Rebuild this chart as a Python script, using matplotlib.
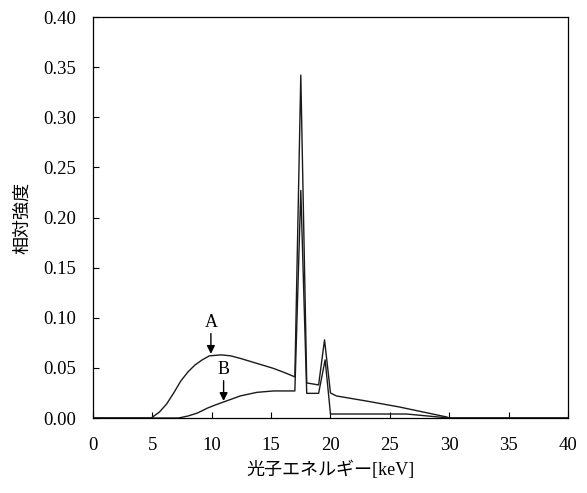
import matplotlib.pyplot as plt

# spectrum A (keV, relative intensity)
energy_a = [0, 4.9, 5.6, 6.2, 6.8, 7.4, 8.0, 8.6, 9.2, 9.8, 10.8, 11.6, 12.4, 13.8, 15.2, 16.2, 17.0,
            17.5, 18.0, 19.0, 19.5, 20.0, 20.5, 23.0, 25.8, 29.8, 30.0, 40.0]
intensity_a = [0, 0, 0.006, 0.014, 0.025, 0.037, 0.046, 0.053, 0.058, 0.062, 0.063, 0.062,
               0.0595, 0.0545, 0.0495, 0.045, 0.041, 0.342, 0.035, 0.033, 0.078, 0.025, 0.022,
               0.017, 0.011, 0.001, 0, 0]

# spectrum B
energy_b = [0, 7.2, 8.0, 8.8, 9.6, 10.3, 11.0, 12.4, 13.8, 15.2, 17.0, 17.5, 18.0, 19.0, 19.55,
            20.0, 26.4, 30.0, 40.0]
intensity_b = [0, 0, 0.002, 0.005, 0.0097, 0.013, 0.016, 0.022, 0.0256, 0.027, 0.027, 0.227,
               0.0246, 0.0246, 0.058, 0.004, 0.004, 0, 0]

xticks = [0, 5, 10, 15, 20, 25, 30, 35, 40]
yticks = [0.00, 0.05, 0.10, 0.15, 0.20, 0.25, 0.30, 0.35, 0.40]

serif = ['Liberation Serif', 'Noto Sans CJK JP']

fig = plt.figure(figsize=(5.87, 4.93), dpi=100)
ax = fig.add_axes([0.1584, 0.1521, 0.8092, 0.8134])

ax.plot(energy_a, intensity_a, color='#1a1a1a', lw=1.0)
ax.plot(energy_b, intensity_b, color='#1a1a1a', lw=1.0)

ax.annotate('A', xy=(9.93, 0.064), xytext=(9.93, 0.087), ha='center', va='bottom',
            fontsize=13, family=serif,
            arrowprops=dict(arrowstyle='-|>', color='black', lw=1.0, mutation_scale=12,
                            shrinkA=0, shrinkB=0))
ax.annotate('B', xy=(11.0, 0.017), xytext=(11.0, 0.040), ha='center', va='bottom',
            fontsize=13, family=serif,
            arrowprops=dict(arrowstyle='-|>', color='black', lw=1.0, mutation_scale=12,
                            shrinkA=0, shrinkB=0))

ax.set_xlim(0, 40)
ax.set_ylim(0, 0.40)
ax.set_xticks(xticks)
ax.set_yticks(yticks)
ax.set_xticklabels([str(t) for t in xticks], family=serif, fontsize=13.5)
ax.set_yticklabels(['%.2f' % t for t in yticks], family=serif, fontsize=13.5)
ax.tick_params(direction='in', length=4, width=0.8, pad=12)
ax.tick_params(axis='x', pad=14)
for s in ax.spines.values():
    s.set_linewidth(0.9)

ax.set_xlabel('光子エネルギー[keV]', family=serif, fontsize=13)
ax.set_ylabel('相対強度', family=serif, fontsize=13)
ax.xaxis.set_label_coords(0.5, -0.105)
ax.yaxis.set_label_coords(-0.13, 0.5)

fig.savefig('out.png', dpi=100)
